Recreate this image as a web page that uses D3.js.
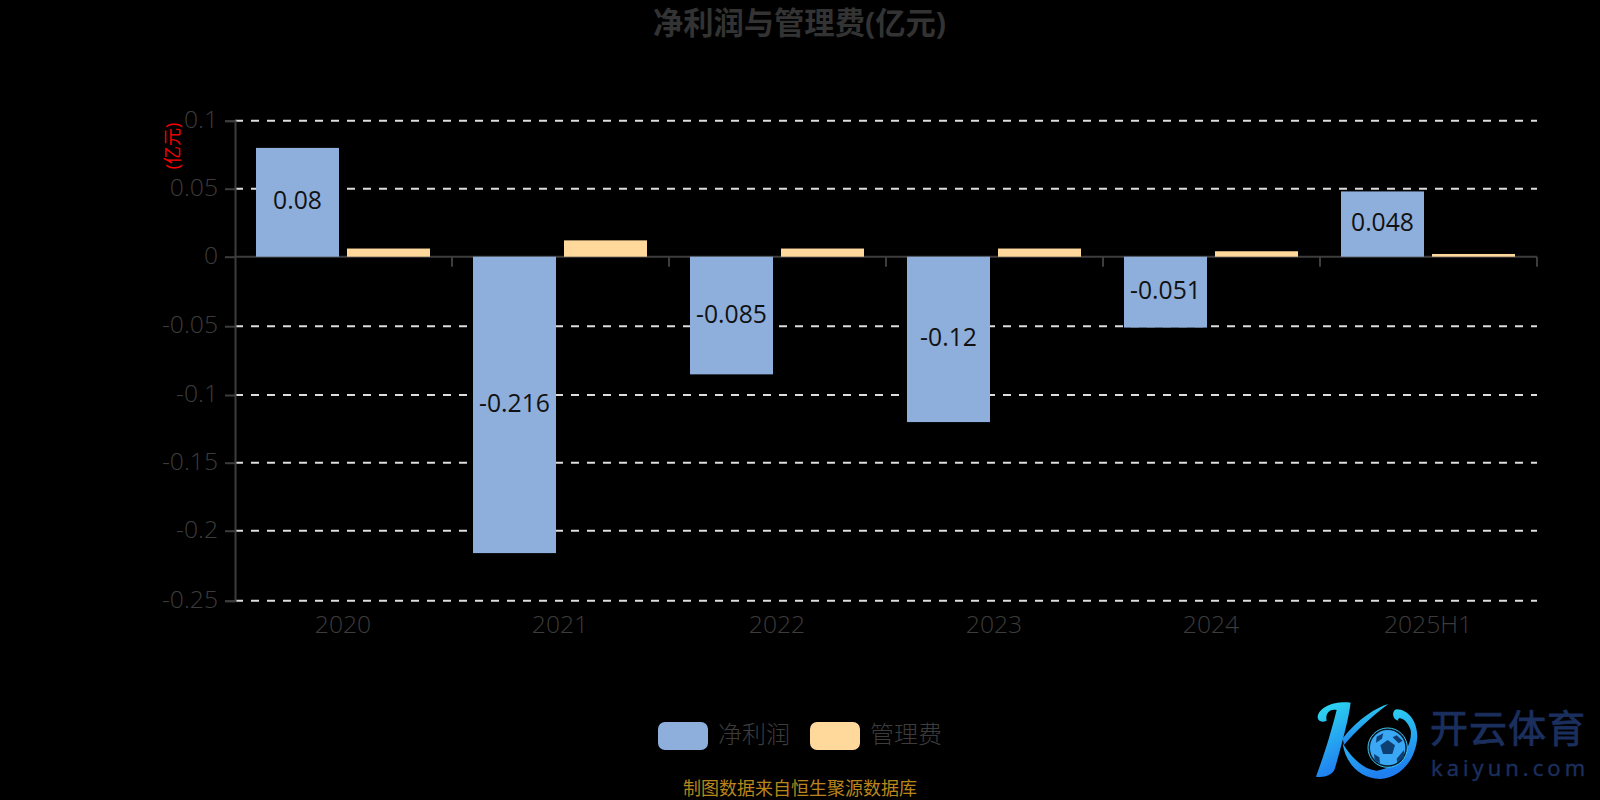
<!DOCTYPE html>
<html>
<head>
<meta charset="utf-8">
<title>净利润与管理费(亿元)</title>
<script src="https://cdn.jsdelivr.net/npm/d3@7/dist/d3.min.js"></script>
<style>
    html, body { margin: 0; padding: 0; background: #000; overflow: hidden; }
    svg { display: block; }
    text { font-family: "Open Sans", "Noto Sans CJK SC", sans-serif; }
</style>
</head>
<body>
<svg id="chart" width="1600" height="800"></svg>
<script>
// 净利润与管理费

const categories = ["2020", "2021", "2022", "2023", "2024", "2025H1"];
const netProfit = [0.08, -0.216, -0.085, -0.12, -0.051, 0.048];
const adminFee = [0.006, 0.012, 0.006, 0.006, 0.004, 0.002];
const yTicks = [0.1, 0.05, 0, -0.05, -0.1, -0.15, -0.2, -0.25];
const seriesNames = ["净利润", "管理费"];
const seriesColors = ["#8eaedb", "#ffd99b"];

const svg = d3.select("#chart");
const textColor = "#3c3c3c";
const axisColor = "#3d3d3d";
const labelSize = 24.7;

const plotLeft = 235, plotRight = 1537;

const x0 = d3.scaleBand().domain(categories).range([plotLeft, plotRight]);
const x1 = d3.scaleBand().domain(seriesNames)
    .range([21, x0.bandwidth() - 22])
    .paddingInner(8 / 91);
// 原图刻度间距不完全均匀,按刻度分段对齐
const y = d3.scaleLinear()
    .domain(yTicks)
    .range([120.7, 188.7, 256.7, 326.2, 395, 462.7, 530.7, 600.7]);

// ---- 标题 ----

svg.append("text")
    .attr("x", 799.5).attr("y", 34)
    .attr("text-anchor", "middle")
    .attr("font-size", 30.3).attr("font-weight", "bold")
    .attr("fill", "#333")
    .text("净利润与管理费(亿元)");

svg.append("text")
    .attr("transform", "translate(179,146) rotate(-90)")
    .attr("text-anchor", "middle")
    .attr("font-size", 18)
    .attr("fill", "#f00")
    .text("(亿元)");

// ---- 网格线 ----

svg.append("g").selectAll("line")
    .data(yTicks.filter(d => d !== 0))
    .enter().append("line")
    .attr("x1", plotLeft).attr("x2", plotRight)
    .attr("y1", d => y(d)).attr("y2", d => y(d))
    .attr("stroke", "#ddd").attr("stroke-width", 2)
    .attr("stroke-dasharray", "8 8");

// ---- 坐标轴 ----

const yAxis = svg.append("g")
    .attr("transform", `translate(${plotLeft},0)`)
    .call(d3.axisLeft(y).tickValues(yTicks).tickFormat(d => String(d)).tickSize(10).tickPadding(7));

const xAxis = svg.append("g")
    .attr("transform", `translate(0,${y(0)})`)
    .call(d3.axisBottom(x0).tickSize(0).tickPadding(0));

yAxis.selectAll("text")
    .attr("font-size", labelSize).attr("font-weight", 300)
    .attr("fill", textColor).attr("font-family", null)
    .attr("dy", "0.27em");
yAxis.selectAll("line, path").attr("stroke", axisColor).attr("stroke-width", 2);

xAxis.select("path").attr("stroke", axisColor).attr("stroke-width", 2).attr("d", `M${plotLeft},0H${plotRight}`);
xAxis.selectAll(".tick").remove();

svg.append("g").selectAll("line")
    .data(categories.slice(1).map(c => x0(c)).concat(plotRight))
    .enter().append("line")
    .attr("x1", d => d).attr("x2", d => d)
    .attr("y1", y(0)).attr("y2", y(0) + 10)
    .attr("stroke", axisColor).attr("stroke-width", 2);

svg.append("g").selectAll("text")
    .data(categories)
    .enter().append("text")
    .attr("x", d => x0(d) + x0.bandwidth() / 2 - 0.5)
    .attr("y", 633)
    .attr("text-anchor", "middle")
    .attr("font-size", labelSize).attr("font-weight", 300)
    .attr("fill", textColor)
    .text(d => d);

// ---- 柱 ----

[netProfit, adminFee].forEach((values, i) => {
    svg.append("g").selectAll("rect")
        .data(values)
        .enter().append("rect")
        .attr("x", (d, j) => x0(categories[j]) + x1(seriesNames[i]))
        .attr("width", x1.bandwidth())
        .attr("y", d => y(Math.max(d, 0)))
        .attr("height", d => Math.abs(y(d) - y(0)))
        .attr("fill", seriesColors[i]);
});

svg.append("g").selectAll("text")
    .data(netProfit)
    .enter().append("text")
    .attr("x", (d, j) => x0(categories[j]) + x1(seriesNames[0]) + x1.bandwidth() / 2)
    .attr("y", d => (y(d) + y(0)) / 2 + 7)
    .attr("text-anchor", "middle")
    .attr("font-size", labelSize)
    .attr("fill", "#111")
    .text(d => d);

// ---- 图例 ----

const legend = svg.append("g").selectAll("g")
    .data(seriesNames)
    .enter().append("g")
    .attr("transform", (d, i) => `translate(${658 + i * 152},722)`);

legend.append("rect")
    .attr("width", 50).attr("height", 28).attr("rx", 7)
    .attr("fill", (d, i) => seriesColors[i]);

legend.append("text")
    .attr("x", 60).attr("y", 21)
    .attr("font-size", 24).attr("font-weight", 300)
    .attr("fill", textColor)
    .text(d => d);

svg.append("text")
    .attr("x", 800).attr("y", 795)
    .attr("text-anchor", "middle")
    .attr("font-size", 18)
    .attr("fill", "#b8861b")
    .text("制图数据来自恒生聚源数据库");

// ---- 水印 ----

const defs = svg.append("defs");
const grad = defs.append("linearGradient").attr("id", "logoGrad")
    .attr("x1", 0).attr("y1", 0).attr("x2", 0.3).attr("y2", 1);
grad.append("stop").attr("offset", 0).attr("stop-color", "#2fe0f0");
grad.append("stop").attr("offset", 1).attr("stop-color", "#1f7ff0");

const logo = svg.append("g").attr("transform", "translate(1280,680) scale(0.3333)");

logo.selectAll("path")
    .data([
        "M113 110C118 80 165 62 212 68C205 120 190 175 165 265C160 285 130 295 108 290C130 230 150 170 170 90C150 85 135 100 140 122C125 130 112 122 113 110Z",
        "M325 72C290 82 235 115 188 175L192 195C225 155 275 110 325 72Z",
        "M188 190C195 245 235 295 300 297C360 295 408 240 412 170C412 125 385 88 350 88C335 90 335 118 355 122C350 108 380 112 392 150C400 200 350 265 290 272C250 268 215 235 188 190Z"
    ])
    .enter().append("path")
    .attr("d", d => d)
    .attr("fill", "url(#logoGrad)");

logo.append("circle")
    .attr("cx", 323).attr("cy", 203).attr("r", 56)
    .attr("fill", "#3aa8f5")
    .attr("stroke", "#041a2e").attr("stroke-width", 6);

logo.append("circle")
    .attr("cx", 323).attr("cy", 203).attr("r", 59)
    .attr("fill", "none")
    .attr("stroke", "#41c8ee").attr("stroke-width", 3);

logo.selectAll("polygon")
    .data([
        "323,180 345,196 337,222 309,222 301,196",
        "290,170 310,160 306,176 288,188",
        "350,166 368,182 356,190 338,172",
        "282,222 298,232 300,250 284,240",
        "362,222 372,210 372,232 352,250 350,236"
    ])
    .enter().append("polygon")
    .attr("points", d => d)
    .attr("fill", "#0d3f73");

svg.append("text")
    .attr("x", 1430).attr("y", 742)
    .attr("font-size", 38)
    .attr("fill", "#1b2f5e")
    .attr("stroke", "#1b2f5e").attr("stroke-width", 0.8)
    .attr("textLength", 155)
    .text("开云体育");

svg.append("text")
    .attr("x", 1431).attr("y", 776)
    .attr("font-size", 22)
    .attr("fill", "#1b2f5e")
    .attr("stroke", "#1b2f5e").attr("stroke-width", 0.5)
    .attr("textLength", 154)
    .text("kaiyun.com");
</script>
</body>
</html>
